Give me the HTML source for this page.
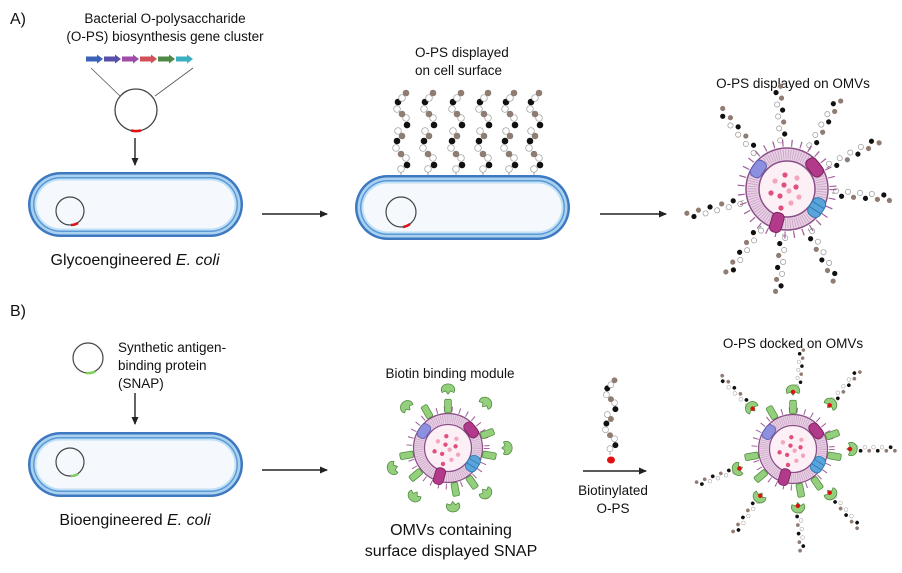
<!DOCTYPE html>
<html><head><meta charset="utf-8"><style>
html,body{margin:0;padding:0;background:#fff}
svg{display:block}
text{font-family:"Liberation Sans",Arial,sans-serif;fill:#111}
</style></head><body>
<svg width="902" height="573" viewBox="0 0 902 573" xmlns="http://www.w3.org/2000/svg">
<defs>
<marker id="ah" markerWidth="8" markerHeight="8" refX="7" refY="4" orient="auto" markerUnits="userSpaceOnUse">
<path d="M0,0.5 L8,4 L0,7.5 Z" fill="#222"/></marker>
<g id="chain">
<line x1="0" y1="0" x2="0" y2="-3" stroke="#888" stroke-width="0.8"/>
<circle cx="-2.5" cy="-4" r="2.6" fill="#fff" stroke="#999" stroke-width="0.7"/>
<circle cx="2.5" cy="-10" r="2.6" fill="#111"/>
<circle cx="-2.5" cy="-16" r="2.6" fill="#fff" stroke="#999" stroke-width="0.7"/>
<circle cx="2.5" cy="-22" r="2.6" fill="#8f7c73"/>
<circle cx="-2.5" cy="-28" r="2.6" fill="#fff" stroke="#999" stroke-width="0.7"/>
<circle cx="2.5" cy="-34" r="2.6" fill="#111"/>
<circle cx="-2.5" cy="-40" r="2.6" fill="#fff" stroke="#999" stroke-width="0.7"/>
<circle cx="2.5" cy="-46" r="2.6" fill="#8f7c73"/>
<circle cx="-2.5" cy="-52" r="2.6" fill="#111"/>
<circle cx="2.5" cy="-58" r="2.6" fill="#8f7c73"/>
</g>
<g id="vchain">
<line x1="0" y1="0" x2="0" y2="-4" stroke="#888" stroke-width="0.8"/>
<circle cx="0" cy="-7" r="3.3" fill="#fff" stroke="#999" stroke-width="0.7"/>
<circle cx="6" cy="-11" r="3.3" fill="#111"/>
<circle cx="5" cy="-18" r="3.3" fill="#fff" stroke="#999" stroke-width="0.7"/>
<circle cx="0" cy="-22" r="3.3" fill="#8f7c73"/>
<circle cx="-5" cy="-28" r="3.3" fill="#fff" stroke="#999" stroke-width="0.7"/>
<circle cx="-4" cy="-35" r="3.3" fill="#111"/>
<circle cx="1" cy="-40" r="3.3" fill="#8f7c73"/>
<circle cx="-3" cy="-45" r="3.3" fill="#fff" stroke="#999" stroke-width="0.7"/>
<circle cx="6" cy="-51" r="3.3" fill="#111"/>
<circle cx="5" cy="-58" r="3.3" fill="#fff" stroke="#999" stroke-width="0.7"/>
<circle cx="1" cy="-62" r="3.3" fill="#8f7c73"/>
<circle cx="-4" cy="-67" r="3.3" fill="#fff" stroke="#999" stroke-width="0.7"/>
<circle cx="-3" cy="-74" r="3.3" fill="#111"/>
<circle cx="1" cy="-78" r="3.3" fill="#fff" stroke="#999" stroke-width="0.7"/>
<circle cx="5" cy="-83" r="3.3" fill="#8f7c73"/>
</g>
<g id="omv">
<circle r="46" fill="none" stroke="#a0609a" stroke-width="7" stroke-dasharray="1.2 8"/>
<circle r="41" fill="#ead2e6" stroke="#8a4f86" stroke-width="1.5"/>
<circle r="34.5" fill="none" stroke="#c9a1c4" stroke-width="10" stroke-dasharray="0.8 1.6"/>
<circle r="28" fill="#fcf0f6" stroke="#8a4f86" stroke-width="1.5"/>
<circle cx="-2" cy="-14" r="2.6" fill="#e0507a"/><circle cx="-12" cy="-8" r="2.6" fill="#f2a6bb"/>
<circle cx="10" cy="-11" r="2.6" fill="#f2a6bb"/><circle cx="-3" cy="-4" r="2.6" fill="#e0507a"/>
<circle cx="9" cy="-2" r="2.6" fill="#e0507a"/><circle cx="2" cy="2" r="2.6" fill="#f2a6bb"/>
<circle cx="-16" cy="4" r="2.6" fill="#e0507a"/><circle cx="-7" cy="7" r="2.6" fill="#e0507a"/>
<circle cx="12" cy="8" r="2.6" fill="#f2a6bb"/><circle cx="4" cy="14" r="2.6" fill="#f2a6bb"/>
<circle cx="-6" cy="19" r="2.6" fill="#e0507a"/>
<g transform="rotate(-55) translate(0,-35)"><rect x="-9" y="-6" width="18" height="12" rx="5" fill="#8d8fdf" stroke="#5e5fb0" stroke-width="1"/></g>
<g transform="rotate(52) translate(0,-35)"><rect x="-6" y="-10" width="12" height="20" rx="5" fill="#b23a8a" stroke="#7d1f5f" stroke-width="1" transform="rotate(90)"/></g>
<g transform="rotate(197) translate(0,-35)"><rect x="-6" y="-10" width="12" height="20" rx="5" fill="#b23a8a" stroke="#7d1f5f" stroke-width="1"/></g>
<g transform="rotate(122) translate(0,-35)"><rect x="-10" y="-7" width="20" height="14" rx="6" fill="#5aa4dc" stroke="#2f78b0" stroke-width="1"/><line x1="-3" y1="-7" x2="-3" y2="7" stroke="#2f78b0"/><line x1="3" y1="-7" x2="3" y2="7" stroke="#2f78b0"/></g>
</g>
<g id="snap">
<rect x="-4" y="-58" width="8" height="16" rx="2" fill="#93cf7c" stroke="#4d8a3c" stroke-width="0.9"/>
</g>
<g id="binder">
<path d="M-7,-66 A8,7 0 1 1 7,-66 L3,-68 L0,-64 L-3,-68 Z" fill="#93cf7c" stroke="#4d8a3c" stroke-width="0.9"/>
</g>
<g id="cell">
<rect x="0" y="0" width="215" height="65" rx="32.5" fill="#3d78c0"/>
<rect x="2.5" y="2.5" width="210" height="60" rx="30" fill="#a9d2f1"/>
<rect x="5" y="5" width="205" height="55" rx="27.5" fill="#5d9ad5"/>
<rect x="6.5" y="6.5" width="202" height="52" rx="26" fill="#bfe0f6"/>
<rect x="8.5" y="8.5" width="198" height="48" rx="24" fill="#f5f9fe"/>
</g>
</defs>

<!-- Panel A -->
<text x="10" y="24" font-size="16">A)</text>
<text x="165" y="23" font-size="13.5" text-anchor="middle">Bacterial O-polysaccharide</text>
<text x="165" y="41" font-size="13.5" text-anchor="middle">(O-PS) biosynthesis gene cluster</text>
<g transform="translate(86,59)">
<path d="M0,-2.5 H11 V-4.5 L17,0 L11,4.5 V2.5 H0 Z" fill="#3a63b8"/>
<path d="M18,-2.5 H29 V-4.5 L35,0 L29,4.5 V2.5 H18 Z" fill="#5a4fa8"/>
<path d="M36,-2.5 H47 V-4.5 L53,0 L47,4.5 V2.5 H36 Z" fill="#a04ca8"/>
<path d="M54,-2.5 H65 V-4.5 L71,0 L65,4.5 V2.5 H54 Z" fill="#d2505a"/>
<path d="M72,-2.5 H83 V-4.5 L89,0 L83,4.5 V2.5 H72 Z" fill="#4f8a45"/>
<path d="M90,-2.5 H101 V-4.5 L107,0 L101,4.5 V2.5 H90 Z" fill="#3bb0c0"/>
</g>
<line x1="91" y1="68" x2="120" y2="96" stroke="#555" stroke-width="0.8"/>
<line x1="193" y1="68" x2="155" y2="96" stroke="#555" stroke-width="0.8"/>
<circle cx="136" cy="110" r="21" fill="#fff" stroke="#444" stroke-width="1.3"/>
<path d="M131,130.5 A21,21 0 0 0 141,130.5" fill="none" stroke="#e01010" stroke-width="2.5"/>
<line x1="135" y1="138" x2="135" y2="165" stroke="#222" stroke-width="1.4" marker-end="url(#ah)"/>
<use href="#cell" x="28" y="172"/>
<circle cx="70" cy="211" r="14" fill="none" stroke="#444" stroke-width="1.2"/>
<path d="M71,225 A14,14 0 0 0 78,223" fill="none" stroke="#e01010" stroke-width="2.5"/>
<text x="135" y="265" font-size="16" text-anchor="middle">Glycoengineered <tspan font-style="italic">E. coli</tspan></text>
<line x1="262" y1="214" x2="327" y2="214" stroke="#222" stroke-width="1.4" marker-end="url(#ah)"/>

<text x="415" y="57" font-size="13.5">O-PS displayed</text>
<text x="415" y="75" font-size="13.5">on cell surface</text>
<use href="#vchain" x="401" y="176"/><use href="#vchain" x="428" y="176"/>
<use href="#vchain" x="456" y="176"/><use href="#vchain" x="483" y="176"/>
<use href="#vchain" x="509" y="176"/><use href="#vchain" x="534" y="176"/>
<use href="#cell" x="355" y="175"/>
<circle cx="401" cy="212" r="15" fill="none" stroke="#444" stroke-width="1.2"/>
<path d="M403,227 A15,15 0 0 0 410,224" fill="none" stroke="#e01010" stroke-width="2.5"/>
<line x1="600" y1="214" x2="666" y2="214" stroke="#222" stroke-width="1.4" marker-end="url(#ah)"/>

<text x="793" y="88" font-size="13.5" text-anchor="middle">O-PS displayed on OMVs</text>
<g transform="translate(787,189)">
<use href="#chain" transform="rotate(-40) translate(0,-45)"/>
<use href="#chain" transform="rotate(-5) translate(0,-45)"/>
<use href="#chain" transform="rotate(30) translate(0,-45)"/>
<use href="#chain" transform="rotate(62) translate(0,-45)"/>
<use href="#chain" transform="rotate(95) translate(0,-45)"/>
<use href="#chain" transform="rotate(152) translate(0,-45)"/>
<use href="#chain" transform="rotate(185) translate(0,-45)"/>
<use href="#chain" transform="rotate(215) translate(0,-45)"/>
<use href="#chain" transform="rotate(255) translate(0,-45)"/>
<use href="#omv"/>
</g>

<!-- Panel B -->
<text x="10" y="316" font-size="16">B)</text>
<circle cx="88" cy="358" r="15" fill="#fff" stroke="#444" stroke-width="1.2"/>
<path d="M86,373 A15,15 0 0 0 95,371.5" fill="none" stroke="#7fcf5a" stroke-width="2.5"/>
<text x="118" y="352" font-size="13.5">Synthetic antigen-</text>
<text x="118" y="370" font-size="13.5">binding protein</text>
<text x="118" y="388" font-size="13.5">(SNAP)</text>
<line x1="135" y1="393" x2="135" y2="424" stroke="#222" stroke-width="1.4" marker-end="url(#ah)"/>
<use href="#cell" x="28" y="432"/>
<circle cx="70" cy="462" r="14" fill="none" stroke="#444" stroke-width="1.2"/>
<path d="M71,476 A14,14 0 0 0 78,474" fill="none" stroke="#7fcf5a" stroke-width="2.5"/>
<text x="135" y="525" font-size="16" text-anchor="middle">Bioengineered <tspan font-style="italic">E. coli</tspan></text>
<line x1="262" y1="470" x2="327" y2="470" stroke="#222" stroke-width="1.4" marker-end="url(#ah)"/>

<text x="450" y="378" font-size="13.5" text-anchor="middle">Biotin binding module</text>
<g transform="translate(448,448) scale(0.84)">
<use href="#omv"/>
<use href="#snap" transform="rotate(-30)"/><use href="#snap" transform="rotate(0)"/>
<use href="#snap" transform="rotate(70)"/><use href="#snap" transform="rotate(100)"/>
<use href="#snap" transform="rotate(145)"/><use href="#snap" transform="rotate(170)"/>
<use href="#snap" transform="rotate(230)"/><use href="#snap" transform="rotate(260)"/>
<use href="#binder" transform="rotate(-45)"/><use href="#binder" transform="rotate(0)"/>
<use href="#binder" transform="rotate(40)"/><use href="#binder" transform="rotate(90)"/>
<use href="#binder" transform="rotate(140)"/><use href="#binder" transform="rotate(175)"/>
<use href="#binder" transform="rotate(215)"/><use href="#binder" transform="rotate(250)"/>
</g>
<text x="451" y="535" font-size="16" text-anchor="middle">OMVs containing</text>
<text x="451" y="556" font-size="16" text-anchor="middle">surface displayed SNAP</text>

<use href="#vchain" x="610" y="455" transform="translate(610,455) scale(0.9) translate(-610,-455)"/>
<ellipse cx="611" cy="460" rx="4" ry="3.5" fill="#e01010"/>
<line x1="583" y1="471" x2="646" y2="471" stroke="#222" stroke-width="1.4" marker-end="url(#ah)"/>
<text x="613" y="495" font-size="13.5" text-anchor="middle">Biotinylated</text>
<text x="613" y="513" font-size="13.5" text-anchor="middle">O-PS</text>

<text x="793" y="348" font-size="13.5" text-anchor="middle">O-PS docked on OMVs</text>
<g transform="translate(793,449) scale(0.84)">
<use href="#chain" transform="rotate(-45) translate(0,-72) scale(0.85)"/>
<use href="#chain" transform="rotate(5) translate(0,-72) scale(0.8)"/>
<use href="#chain" transform="rotate(40) translate(0,-72) scale(0.85)"/>
<use href="#chain" transform="rotate(90) translate(0,-72) scale(0.85)"/>
<use href="#chain" transform="rotate(140) translate(0,-72) scale(0.85)"/>
<use href="#chain" transform="rotate(175) translate(0,-72) scale(0.85)"/>
<use href="#chain" transform="rotate(215) translate(0,-72) scale(0.85)"/>
<use href="#chain" transform="rotate(250) translate(0,-72) scale(0.85)"/>
<use href="#omv"/>
<use href="#snap" transform="rotate(-30)"/><use href="#snap" transform="rotate(0)"/>
<use href="#snap" transform="rotate(70)"/><use href="#snap" transform="rotate(100)"/>
<use href="#snap" transform="rotate(145)"/><use href="#snap" transform="rotate(170)"/>
<use href="#snap" transform="rotate(230)"/><use href="#snap" transform="rotate(260)"/>
<g><use href="#binder" transform="rotate(-45)"/><circle transform="rotate(-45)" cx="0" cy="-68" r="2.6" fill="#e01010"/></g>
<g><use href="#binder" transform="rotate(0)"/><circle cx="0" cy="-68" r="2.6" fill="#e01010"/></g>
<g><use href="#binder" transform="rotate(40)"/><circle transform="rotate(40)" cx="0" cy="-68" r="2.6" fill="#e01010"/></g>
<g><use href="#binder" transform="rotate(90)"/><circle transform="rotate(90)" cx="0" cy="-68" r="2.6" fill="#e01010"/></g>
<g><use href="#binder" transform="rotate(140)"/><circle transform="rotate(140)" cx="0" cy="-68" r="2.6" fill="#e01010"/></g>
<g><use href="#binder" transform="rotate(175)"/><circle transform="rotate(175)" cx="0" cy="-68" r="2.6" fill="#e01010"/></g>
<g><use href="#binder" transform="rotate(215)"/><circle transform="rotate(215)" cx="0" cy="-68" r="2.6" fill="#e01010"/></g>
<g><use href="#binder" transform="rotate(250)"/><circle transform="rotate(250)" cx="0" cy="-68" r="2.6" fill="#e01010"/></g>
</g>
</svg>
</body></html>
